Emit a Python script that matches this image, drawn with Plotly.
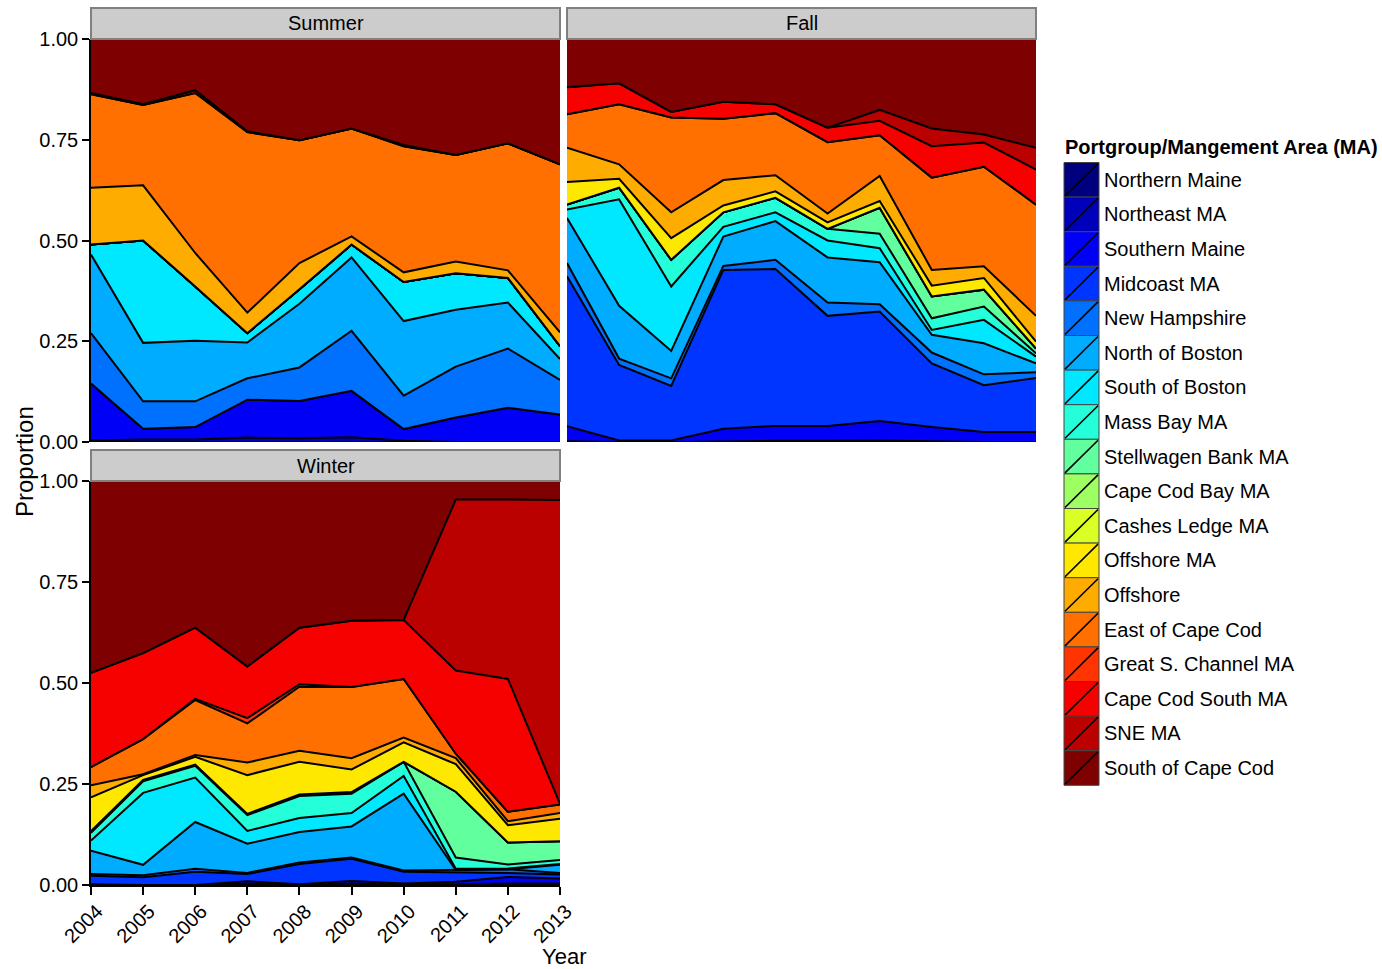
import plotly.graph_objects as go

W, H = 1382, 969

YEARS = [2004, 2005, 2006, 2007, 2008, 2009, 2010, 2011, 2012, 2013]

CATEGORIES = [
    "Northern Maine", "Northeast MA", "Southern Maine", "Midcoast MA",
    "New Hampshire", "North of Boston", "South of Boston", "Mass Bay MA",
    "Stellwagen Bank MA", "Cape Cod Bay MA", "Cashes Ledge MA", "Offshore MA",
    "Offshore", "East of Cape Cod", "Great S. Channel MA", "Cape Cod South MA",
    "SNE MA", "South of Cape Cod",
]

COLORS = [
    "#00007F", "#0000BB", "#0000F7", "#0034FF", "#0070FF", "#00ACFF",
    "#00E8FF", "#25FFD9", "#61FF9D", "#9DFF61", "#D9FF25", "#FFE800",
    "#FFAC00", "#FF7000", "#FF3400", "#F70000", "#BB0000", "#7F0000",
]

Z = [0, 0, 0, 0, 0, 0, 0, 0, 0, 0]

# proportions per category (rows follow CATEGORIES), columns follow YEARS
SUMMER = [
    Z,
    [0.004, 0.006, 0.006, 0.011, 0.009, 0.012, 0.003, 0, 0, 0],
    [0.141, 0.027, 0.031, 0.094, 0.093, 0.115, 0.029, 0.061, 0.085, 0.068],
    Z,
    [0.125, 0.068, 0.064, 0.053, 0.083, 0.149, 0.083, 0.126, 0.147, 0.086],
    [0.195, 0.145, 0.150, 0.089, 0.158, 0.182, 0.185, 0.141, 0.114, 0.052],
    [0.025, 0.254, 0.135, 0.023, 0.036, 0.032, 0.097, 0.091, 0.061, 0.032],
    Z, Z, Z, Z, Z,
    [0.141, 0.137, 0.083, 0.051, 0.065, 0.020, 0.024, 0.029, 0.019, 0.034],
    [0.232, 0.199, 0.397, 0.448, 0.305, 0.268, 0.313, 0.264, 0.315, 0.417],
    Z,
    [0.003, 0.002, 0.007, 0.002, 0, 0, 0.003, 0, 0, 0],
    Z,
    [0.134, 0.162, 0.127, 0.229, 0.251, 0.222, 0.263, 0.288, 0.259, 0.311],
]

FALL = [
    Z,
    [0.002, 0, 0, 0.002, 0.003, 0.003, 0.004, 0.002, 0, 0],
    [0.037, 0.004, 0.004, 0.031, 0.037, 0.037, 0.048, 0.035, 0.025, 0.025],
    [0.372, 0.187, 0.135, 0.394, 0.389, 0.273, 0.272, 0.158, 0.116, 0.134],
    [0.033, 0.016, 0.019, 0.010, 0.023, 0.033, 0.018, 0.027, 0.027, 0.014],
    [0.112, 0.131, 0.068, 0.073, 0.096, 0.112, 0.104, 0.044, 0.077, 0.022],
    [0.021, 0.264, 0.160, 0.024, 0.022, 0.042, 0.035, 0.012, 0.058, 0.017],
    [0.012, 0.029, 0.066, 0.036, 0.036, 0.029, 0.036, 0.029, 0.033, 0.008],
    [0, 0, 0, 0, 0, 0, 0.064, 0.054, 0.042, 0.012],
    Z, Z,
    [0.056, 0.022, 0.054, 0.017, 0.016, 0.016, 0.017, 0.027, 0.029, 0.017],
    [0.085, 0.036, 0.064, 0.063, 0.040, 0.022, 0.062, 0.039, 0.029, 0.064],
    [0.083, 0.149, 0.235, 0.152, 0.154, 0.177, 0.101, 0.229, 0.247, 0.276],
    Z,
    [0.067, 0.052, 0.014, 0.042, 0.022, 0.036, 0.036, 0.078, 0.060, 0.087],
    [0, 0, 0, 0, 0, 0, 0.027, 0.044, 0.020, 0.054],
    [0.120, 0.110, 0.181, 0.156, 0.162, 0.220, 0.176, 0.222, 0.237, 0.270],
]

WINTER = [
    Z,
    [0.002, 0, 0, 0.003, 0, 0.004, 0, 0.002, 0.004, 0.004],
    [0, 0, 0, 0.006, 0.002, 0.006, 0.004, 0.006, 0.016, 0.012],
    [0.021, 0.019, 0.033, 0.018, 0.050, 0.055, 0.029, 0.024, 0.010, 0.010],
    [0.004, 0.005, 0.007, 0.003, 0.004, 0.003, 0.003, 0.005, 0.009, 0.004],
    [0.058, 0.026, 0.116, 0.072, 0.075, 0.077, 0.190, 0, 0, 0.020],
    [0.025, 0.178, 0.110, 0.032, 0.035, 0.033, 0.044, 0.003, 0.002, 0.002],
    [0.019, 0.029, 0.029, 0.039, 0.054, 0.048, 0.035, 0.028, 0.010, 0.010],
    [0.004, 0.003, 0.003, 0.003, 0.004, 0.004, 0, 0.163, 0.054, 0.046],
    Z, Z,
    [0.084, 0.012, 0.019, 0.096, 0.081, 0.056, 0.048, 0.068, 0.043, 0.056],
    [0.030, 0.002, 0.005, 0.031, 0.027, 0.028, 0.012, 0.015, 0.010, 0.014],
    [0.045, 0.087, 0.136, 0.097, 0.159, 0.176, 0.145, 0.011, 0.023, 0.021],
    [0, 0, 0.003, 0.013, 0.006, 0, 0, 0, 0, 0],
    [0.233, 0.213, 0.176, 0.128, 0.140, 0.164, 0.146, 0.206, 0.329, 0.002],
    [0, 0, 0, 0, 0, 0, 0, 0.423, 0.444, 0.752],
    [0.475, 0.426, 0.363, 0.459, 0.363, 0.346, 0.344, 0.046, 0.046, 0.047],
]

PANELS = [("Summer", SUMMER, "x", "y"), ("Fall", FALL, "x2", "y2"), ("Winter", WINTER, "x3", "y3")]

Y_TICKS = [0, 0.25, 0.5, 0.75, 1.0]
Y_TICKTEXT = ["0.00", "0.25", "0.50", "0.75", "1.00"]

FONT = "Liberation Sans, Arial, Helvetica, sans-serif"
FS = 20


def px(xp):
    return xp / W


def py(yp):
    return 1 - yp / H


fig = go.Figure()

for name, data, xa, ya in PANELS:
    for cat, col, vals in zip(CATEGORIES, COLORS, data):
        fig.add_trace(go.Scatter(
            x=YEARS, y=vals, name=cat, mode="lines",
            stackgroup=name, fillcolor=col,
            line=dict(color="black", width=2, shape="linear"),
            xaxis=xa, yaxis=ya, showlegend=False, hoverinfo="x+y+name",
        ))

# panel geometry (pixels)
SX0, SX1 = 91, 560
FX0, FX1 = 567, 1036
TOP_Y0, TOP_Y1 = 39, 442
BOT_Y0, BOT_Y1 = 481, 885

axis_common = dict(showgrid=False, zeroline=False, fixedrange=True, automargin=False)
ytick_style = dict(tickvals=Y_TICKS, ticktext=Y_TICKTEXT, ticks="outside", ticklen=7,
                   tickwidth=1.5, tickcolor="black", showline=True, linecolor="black",
                   linewidth=1.5, tickfont=dict(size=FS, color="black"))

fig.update_layout(
    template="none",
    width=W, height=H,
    margin=dict(l=0, r=0, t=0, b=0, pad=0),
    paper_bgcolor="white", plot_bgcolor="white",
    font=dict(family=FONT, size=FS, color="black"),
    showlegend=False,
    xaxis=dict(domain=[px(SX0), px(SX1)], anchor="y", range=[2004, 2013],
               showticklabels=False, ticks="", showline=False, **axis_common),
    yaxis=dict(domain=[py(TOP_Y1), py(TOP_Y0)], anchor="x", range=[0, 1],
               **ytick_style, **axis_common),
    xaxis2=dict(domain=[px(FX0), px(FX1)], anchor="y2", range=[2004, 2013],
                showticklabels=False, ticks="", showline=False, **axis_common),
    yaxis2=dict(domain=[py(TOP_Y1), py(TOP_Y0)], anchor="x2", range=[0, 1],
                showticklabels=False, ticks="", showline=False, **axis_common),
    xaxis3=dict(domain=[px(SX0), px(SX1)], anchor="y3", range=[2004, 2013],
                tickvals=YEARS, ticktext=[str(y) for y in YEARS], tickangle=-45,
                ticks="outside", ticklen=8, tickwidth=1.5, tickcolor="black",
                ticklabelshift=6, ticklabelstandoff=-3,
                showline=True, linecolor="black", linewidth=1.5,
                tickfont=dict(size=FS, color="black"), **axis_common),
    yaxis3=dict(domain=[py(BOT_Y1), py(BOT_Y0)], anchor="x3", range=[0, 1],
                **ytick_style, **axis_common),
)

shapes = []
annotations = []

# facet strips
STRIPS = [("Summer", SX0, SX1, 8, TOP_Y0), ("Fall", FX0, FX1, 8, TOP_Y0),
          ("Winter", SX0, SX1, 450, BOT_Y0)]
for label, x0, x1, y0, y1 in STRIPS:
    shapes.append(dict(type="rect", xref="paper", yref="paper",
                       x0=px(x0), x1=px(x1), y0=py(y1), y1=py(y0),
                       fillcolor="#CCCCCC", line=dict(color="#808080", width=2)))
    annotations.append(dict(text=label, xref="paper", yref="paper",
                            x=px((x0 + x1) / 2), y=py((y0 + y1) / 2),
                            xanchor="center", yanchor="middle", showarrow=False,
                            font=dict(size=FS, color="black")))

# axis titles
annotations.append(dict(text="Year", xref="paper", yref="paper",
                        x=px((SX0 + FX1) / 2), y=py(956), xanchor="center",
                        yanchor="middle", showarrow=False,
                        font=dict(size=22, color="black")))
annotations.append(dict(text="Proportion", xref="paper", yref="paper",
                        x=px(25), y=py((TOP_Y0 + BOT_Y1) / 2), xanchor="center",
                        yanchor="middle", textangle=-90, showarrow=False,
                        font=dict(size=24, color="black")))

# legend
LX0, LX1 = 1064, 1099
LY0 = 162.5
STEP = 34.6
annotations.append(dict(text="<b>Portgroup/Mangement Area (MA)</b>", xref="paper",
                        yref="paper", x=px(1063), y=py(147), xanchor="left",
                        yanchor="middle", showarrow=False,
                        font=dict(size=FS, color="black")))
for i, (cat, col) in enumerate(zip(CATEGORIES, COLORS)):
    top = LY0 + i * STEP
    bot = top + STEP
    shapes.append(dict(type="rect", xref="paper", yref="paper",
                       x0=px(LX0), x1=px(LX1), y0=py(bot), y1=py(top),
                       fillcolor=col, line=dict(color="#444444", width=1)))
    shapes.append(dict(type="line", xref="paper", yref="paper",
                       x0=px(LX0 + 1), y0=py(bot - 1), x1=px(LX1 - 1), y1=py(top + 1),
                       line=dict(color="black", width=1.6)))
    annotations.append(dict(text=cat, xref="paper", yref="paper",
                            x=px(1102), y=py(top + STEP / 2), xanchor="left",
                            yanchor="middle", showarrow=False,
                            font=dict(size=FS, color="black")))

fig.update_layout(shapes=shapes, annotations=annotations)

fig.write_html("out.html")
